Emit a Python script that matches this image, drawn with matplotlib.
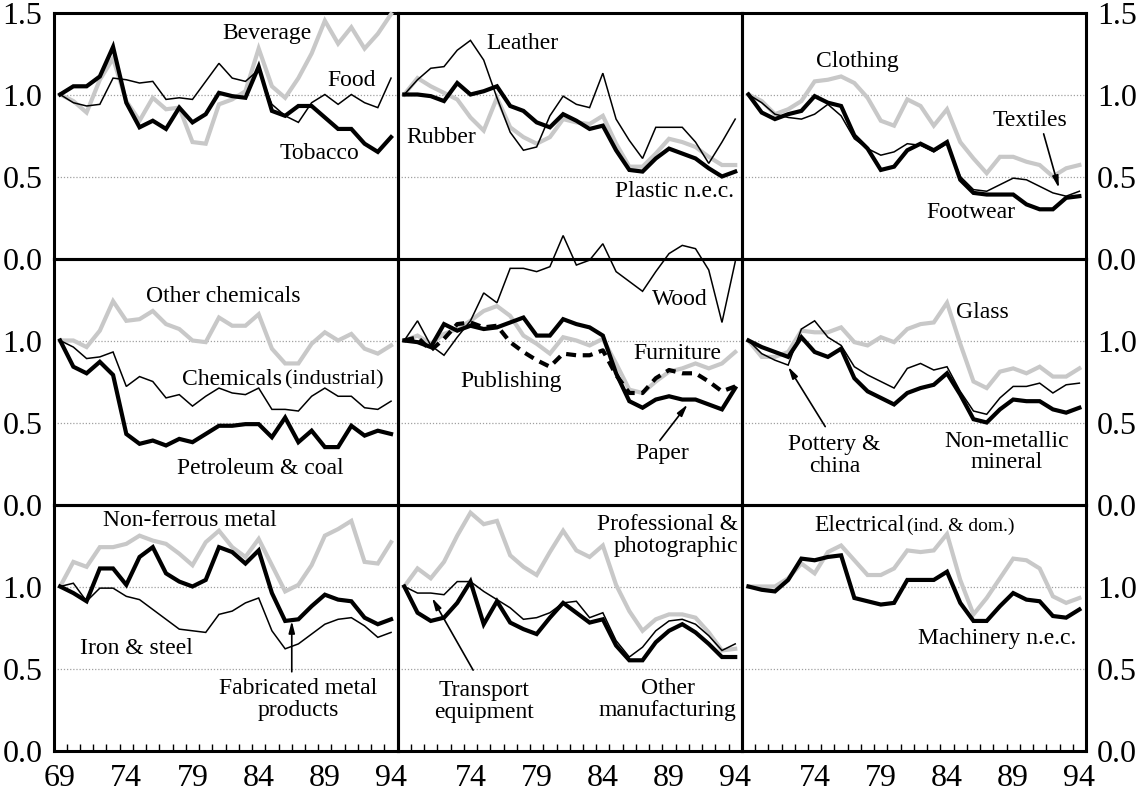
import numpy as np
import matplotlib.pyplot as plt

plt.rcParams['font.family'] = ['Liberation Serif', 'DejaVu Serif']

years = np.arange(69, 95)

# row 1
food = [1.00, 0.95, 0.93, 0.94, 1.10, 1.09, 1.07, 1.08, 0.97, 0.98, 0.97, 1.08, 1.19,
        1.10, 1.08, 1.15, 0.94, 0.87, 0.83, 0.95, 1.00, 0.94, 1.00, 0.95, 0.92, 1.10]
beverage = [1.00, 0.96, 0.89, 1.09, 1.22, 0.96, 0.84, 0.98, 0.91, 0.92, 0.71, 0.70, 0.94,
            0.97, 1.02, 1.28, 1.05, 0.98, 1.10, 1.25, 1.45, 1.31, 1.41, 1.28, 1.37, 1.49]
tobacco = [1.00, 1.05, 1.05, 1.11, 1.29, 0.95, 0.80, 0.84, 0.79, 0.92, 0.83, 0.88, 1.01,
           0.99, 0.98, 1.17, 0.90, 0.87, 0.93, 0.93, 0.86, 0.79, 0.79, 0.70, 0.65, 0.74]
leather = [1.00, 1.09, 1.16, 1.17, 1.27, 1.33, 1.21, 0.98, 0.77, 0.66, 0.68, 0.87, 0.99,
           0.94, 0.92, 1.13, 0.85, 0.72, 0.61, 0.80, 0.80, 0.80, 0.71, 0.58, 0.71, 0.85]
rubber = [1.00, 1.00, 0.99, 0.96, 1.07, 1.00, 1.02, 1.05, 0.93, 0.90, 0.83, 0.80, 0.88,
          0.84, 0.79, 0.81, 0.66, 0.54, 0.53, 0.61, 0.67, 0.64, 0.61, 0.55, 0.50, 0.53]
plastic = [1.00, 1.10, 1.05, 1.01, 0.97, 0.86, 0.78, 0.98, 0.80, 0.74, 0.70, 0.74, 0.85,
           0.83, 0.82, 0.87, 0.70, 0.56, 0.56, 0.64, 0.73, 0.71, 0.68, 0.62, 0.57, 0.57]
clothing = [1.00, 0.96, 0.88, 0.91, 0.96, 1.08, 1.09, 1.11, 1.07, 0.98, 0.84, 0.81, 0.97,
            0.93, 0.81, 0.91, 0.71, 0.61, 0.52, 0.62, 0.62, 0.59, 0.57, 0.50, 0.55, 0.57]
footwear = [1.00, 0.89, 0.85, 0.88, 0.90, 0.99, 0.95, 0.93, 0.75, 0.67, 0.54, 0.56, 0.66,
            0.70, 0.66, 0.71, 0.48, 0.40, 0.39, 0.39, 0.39, 0.33, 0.30, 0.30, 0.37, 0.38]
textiles = [1.00, 0.95, 0.88, 0.86, 0.85, 0.88, 0.94, 0.87, 0.73, 0.67, 0.63, 0.65, 0.70,
            0.69, 0.65, 0.70, 0.50, 0.42, 0.41, 0.45, 0.49, 0.48, 0.44, 0.40, 0.38, 0.41]

# row 2
other_chem = [1.00, 1.00, 0.96, 1.06, 1.24, 1.12, 1.13, 1.18, 1.10, 1.07, 1.00, 0.99, 1.14,
              1.09, 1.09, 1.16, 0.95, 0.86, 0.86, 0.98, 1.05, 1.00, 1.04, 0.95, 0.92, 0.97]
chem_ind = [1.00, 0.96, 0.89, 0.90, 0.93, 0.72, 0.78, 0.75, 0.65, 0.67, 0.60, 0.66, 0.71,
            0.68, 0.67, 0.71, 0.58, 0.58, 0.57, 0.66, 0.71, 0.66, 0.66, 0.59, 0.58, 0.63]
petroleum = [1.00, 0.84, 0.80, 0.87, 0.79, 0.43, 0.37, 0.39, 0.36, 0.40, 0.38, 0.43, 0.48,
             0.48, 0.49, 0.49, 0.41, 0.53, 0.38, 0.45, 0.35, 0.35, 0.48, 0.42, 0.45, 0.43]
wood = [1.00, 1.12, 0.97, 0.91, 1.02, 1.12, 1.29, 1.23, 1.44, 1.44, 1.42, 1.45, 1.64,
        1.46, 1.49, 1.59, 1.42, 1.36, 1.30, 1.42, 1.53, 1.58, 1.56, 1.43, 1.11, 1.48]
furniture = [1.00, 1.03, 0.98, 1.04, 1.07, 1.12, 1.18, 1.21, 1.15, 1.03, 0.98, 0.92, 1.02,
             1.00, 0.97, 1.01, 0.86, 0.70, 0.68, 0.75, 0.81, 0.83, 0.86, 0.83, 0.86, 0.93]
paper = [1.00, 0.99, 0.96, 1.10, 1.06, 1.09, 1.07, 1.08, 1.11, 1.14, 1.03, 1.03, 1.13,
         1.10, 1.08, 1.03, 0.80, 0.63, 0.59, 0.64, 0.66, 0.64, 0.64, 0.61, 0.58, 0.71]
publishing = [1.00, 1.02, 0.94, 1.01, 1.10, 1.11, 1.08, 1.09, 0.99, 0.93, 0.88, 0.84, 0.92,
              0.91, 0.91, 0.94, 0.79, 0.68, 0.68, 0.77, 0.82, 0.80, 0.80, 0.75, 0.69, 0.72]
glass = [1.00, 0.90, 0.90, 0.93, 1.06, 1.05, 1.05, 1.08, 0.99, 0.97, 1.02, 0.99, 1.07,
         1.10, 1.11, 1.23, 0.98, 0.75, 0.71, 0.81, 0.83, 0.80, 0.84, 0.78, 0.78, 0.83]
pottery = [1.00, 0.92, 0.88, 0.85, 1.07, 1.12, 1.02, 0.97, 0.84, 0.79, 0.75, 0.71, 0.83,
           0.86, 0.82, 0.84, 0.69, 0.57, 0.55, 0.65, 0.72, 0.72, 0.74, 0.68, 0.73, 0.74]
nonmetal = [1.00, 0.96, 0.93, 0.90, 1.02, 0.93, 0.90, 0.95, 0.77, 0.69, 0.65, 0.61, 0.68,
            0.71, 0.73, 0.80, 0.67, 0.52, 0.50, 0.58, 0.64, 0.63, 0.63, 0.58, 0.56, 0.59]

# row 3
nonferrous = [1.00, 1.15, 1.12, 1.24, 1.24, 1.26, 1.31, 1.28, 1.26, 1.20, 1.13, 1.27, 1.34,
              1.24, 1.18, 1.29, 1.13, 0.97, 1.01, 1.13, 1.31, 1.35, 1.40, 1.15, 1.14, 1.27]
fabricated = [1.00, 0.96, 0.91, 1.11, 1.11, 1.01, 1.18, 1.24, 1.08, 1.03, 1.00, 1.04, 1.24,
              1.21, 1.14, 1.22, 0.96, 0.79, 0.80, 0.88, 0.95, 0.92, 0.91, 0.81, 0.77, 0.80]
iron_steel = [1.00, 1.02, 0.91, 0.99, 0.99, 0.94, 0.92, 0.86, 0.80, 0.74, 0.73, 0.72, 0.83,
              0.85, 0.90, 0.93, 0.73, 0.62, 0.65, 0.71, 0.77, 0.80, 0.81, 0.76, 0.69, 0.72]
professional = [1.00, 1.11, 1.05, 1.15, 1.31, 1.45, 1.38, 1.40, 1.19, 1.12, 1.07, 1.21, 1.34,
                1.22, 1.18, 1.25, 1.01, 0.85, 0.73, 0.80, 0.83, 0.83, 0.81, 0.72, 0.61, 0.62]
transport = [1.00, 0.96, 0.96, 0.95, 1.03, 1.03, 0.97, 0.92, 0.87, 0.80, 0.81, 0.84, 0.90,
             0.91, 0.81, 0.84, 0.67, 0.57, 0.63, 0.73, 0.79, 0.80, 0.77, 0.70, 0.61, 0.65]
other_manuf = [1.00, 0.84, 0.79, 0.81, 0.90, 1.03, 0.77, 0.91, 0.78, 0.74, 0.71, 0.81, 0.90,
               0.84, 0.78, 0.80, 0.64, 0.55, 0.55, 0.66, 0.73, 0.77, 0.72, 0.65, 0.57, 0.57]
electrical = [1.00, 1.00, 1.00, 1.05, 1.14, 1.08, 1.21, 1.25, 1.16, 1.07, 1.07, 1.11, 1.22,
              1.21, 1.22, 1.32, 1.04, 0.83, 0.93, 1.05, 1.17, 1.16, 1.11, 0.94, 0.90, 0.93]
machinery = [1.00, 0.98, 0.97, 1.04, 1.17, 1.16, 1.18, 1.19, 0.93, 0.91, 0.89, 0.90, 1.04,
             1.04, 1.04, 1.09, 0.90, 0.79, 0.79, 0.88, 0.96, 0.92, 0.91, 0.82, 0.81, 0.86]

GREY = dict(color='#c8c8c8', lw=3.0)
THICK = dict(color='black', lw=3.0)
THIN = dict(color='black', lw=1.1)
DASH = dict(color='black', lw=3.0, ls=(0, (2.4, 1.6)))

# (series, style) per panel, drawn in this order
panels = [
    [[(beverage, GREY), (tobacco, THICK), (food, THIN)],
     [(plastic, GREY), (rubber, THICK), (leather, THIN)],
     [(clothing, GREY), (footwear, THICK), (textiles, THIN)]],
    [[(other_chem, GREY), (petroleum, THICK), (chem_ind, THIN)],
     [(furniture, GREY), (paper, THICK), (publishing, DASH), (wood, THIN)],
     [(glass, GREY), (nonmetal, THICK), (pottery, THIN)]],
    [[(nonferrous, GREY), (fabricated, THICK), (iron_steel, THIN)],
     [(professional, GREY), (other_manuf, THICK), (transport, THIN)],
     [(electrical, GREY), (machinery, THICK)]],
]

FS = 17
TICK_FS = 23

fig = plt.figure(figsize=(11.47, 7.96), dpi=100)
W, H = 1147, 796
L, R, T, B = 53.5, 1086, 12.5, 750.5
pw, ph = (R - L) / 3, (B - T) / 3

axes = [[None] * 3 for _ in range(3)]
for r in range(3):
    for c in range(3):
        ax = fig.add_axes([(L + c * pw) / W, (H - T - (r + 1) * ph) / H, pw / W, ph / H])
        ax.patch.set_visible(False)
        ax.set_xlim(68.5, 94.5)
        ax.set_ylim(0, 1.5)
        for s in ax.spines.values():
            s.set_linewidth(2.2)
        for g in (0.5, 1.0):
            ax.axhline(g, color='#a0a0a0', lw=0.9, ls=(0, (1, 1.5)), zorder=1)
        for vals, style in panels[r][c]:
            ax.plot(years, vals, clip_on=False, zorder=3, solid_joinstyle='miter', **style)

        # y labels only on the outer sides
        yt = [0, 0.5, 1.0, 1.5] if r == 0 else [0, 0.5, 1.0]
        ax.set_yticks(yt)
        ax.set_yticklabels([f'{v:.1f}' for v in yt])
        ax.tick_params(axis='y', length=0, labelsize=TICK_FS, pad=8,
                       labelleft=(c == 0), labelright=(c == 2))

        if r == 2:
            xt = [69, 74, 79, 84, 89, 94] if c == 0 else [74, 79, 84, 89, 94]
            ax.set_xticks(xt)
            ax.set_xticks(np.arange(69.5, 94, 1), minor=True)
            ax.tick_params(axis='x', which='major', length=0, labelsize=TICK_FS, pad=10)
            ax.tick_params(axis='x', which='minor', direction='in', length=5, width=1)
        else:
            ax.set_xticks([])
        axes[r][c] = ax


def arrow(ax, head, tail):
    ax.annotate('', xy=head, xytext=tail,
                arrowprops=dict(arrowstyle='-|>,head_length=0.7,head_width=0.18',
                                color='black', lw=1.2, shrinkA=0, shrinkB=0))


ax = axes[0][0]
ax.text(84.6, 1.37, 'Beverage', ha='center', va='center', fontsize=FS)
ax.text(91.0, 1.085, 'Food', ha='center', va='center', fontsize=FS)
ax.text(88.6, 0.64, 'Tobacco', ha='center', va='center', fontsize=FS)

ax = axes[0][1]
ax.text(77.9, 1.31, 'Leather', ha='center', va='center', fontsize=FS)
ax.text(71.8, 0.74, 'Rubber', ha='center', va='center', fontsize=FS)
ax.text(89.4, 0.41, 'Plastic n.e.c.', ha='center', va='center', fontsize=FS)

ax = axes[0][2]
ax.text(77.2, 1.20, 'Clothing', ha='center', va='center', fontsize=FS)
ax.text(90.3, 0.84, 'Textiles', ha='center', va='center', fontsize=FS)
arrow(ax, (92.45, 0.43), (91.3, 0.76))
ax.text(85.8, 0.28, 'Footwear', ha='center', va='center', fontsize=FS)

ax = axes[1][0]
ax.text(81.3, 1.27, 'Other chemicals', ha='center', va='center', fontsize=FS)
ax.text(78.2, 0.73, 'Chemicals', ha='left', va='baseline', fontsize=FS)
ax.text(86.0, 0.73, '(industrial)', ha='left', va='baseline', fontsize=16)
ax.text(84.1, 0.22, 'Petroleum & coal', ha='center', va='center', fontsize=FS)

ax = axes[1][1]
ax.text(89.8, 1.25, 'Wood', ha='center', va='center', fontsize=FS)
ax.text(89.6, 0.92, 'Furniture', ha='center', va='center', fontsize=FS)
ax.text(77.1, 0.75, 'Publishing', ha='center', va='center', fontsize=FS)
ax.text(88.5, 0.31, 'Paper', ha='center', va='center', fontsize=FS)
arrow(ax, (90.4, 0.61), (88.3, 0.39))

ax = axes[1][2]
ax.text(86.7, 1.17, 'Glass', ha='center', va='center', fontsize=FS)
ax.text(75.5, 0.30, 'Pottery &\nchina', ha='center', va='center', fontsize=FS,
        linespacing=1.05)
arrow(ax, (72.0, 0.84), (74.8, 0.475))
ax.text(88.5, 0.32, 'Non-metallic\nmineral', ha='center', va='center', fontsize=FS,
        linespacing=1.05)

ax = axes[2][0]
ax.text(78.8, 1.40, 'Non-ferrous metal', ha='center', va='center', fontsize=FS)
ax.text(74.8, 0.62, 'Iron & steel', ha='center', va='center', fontsize=FS)
ax.text(87.0, 0.31, 'Fabricated metal\nproducts', ha='center', va='center', fontsize=FS,
        linespacing=1.05)
arrow(ax, (86.5, 0.79), (86.5, 0.48))

ax = axes[2][1]
ax.text(94.2, 1.31, 'Professional &\nphotographic', ha='right', va='center', fontsize=FS,
        multialignment='right', linespacing=1.05)
ax.text(75.0, 0.30, 'Transport\nequipment', ha='center', va='center', fontsize=FS,
        linespacing=1.05)
arrow(ax, (71.1, 0.93), (74.2, 0.49))
ax.text(88.9, 0.31, 'Other\nmanufacturing', ha='center', va='center', fontsize=FS,
        linespacing=1.05)

ax = axes[2][2]
ax.text(74.0, 1.34, 'Electrical', ha='left', va='baseline', fontsize=FS)
ax.text(81.0, 1.34, '(ind. & dom.)', ha='left', va='baseline', fontsize=14)
ax.text(87.8, 0.68, 'Machinery n.e.c.', ha='center', va='center', fontsize=FS)

fig.savefig('out.png', dpi=100)
